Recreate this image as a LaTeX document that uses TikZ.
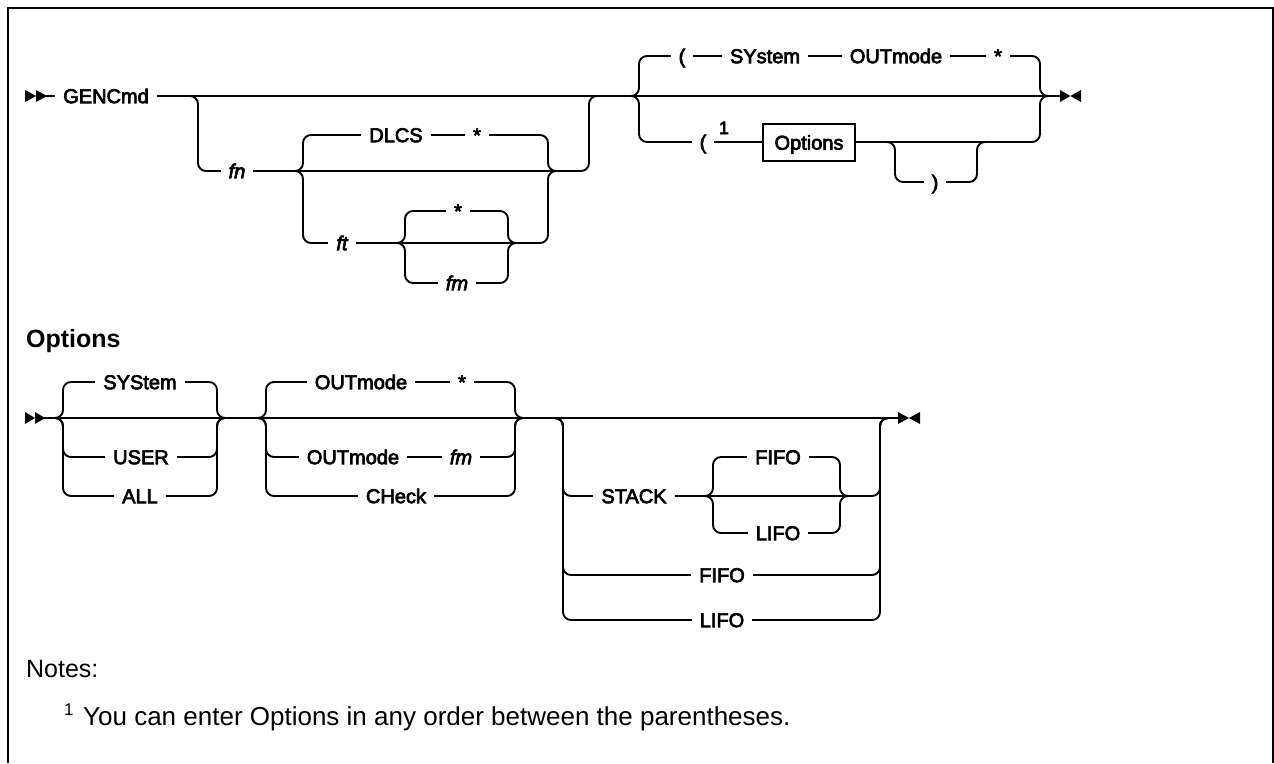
\documentclass[tikz,border=0pt]{standalone}
\usepackage{fontspec}
\setmainfont{Liberation Sans}
\newfontfamily\labfont{Liberation Sans}[FakeBold=3.5]
\begin{document}
\begin{tikzpicture}[x=1pt,y=-1pt,
  rail/.style={line width=1.9pt, rounded corners=8pt, line join=round},
  lab/.style={font=\labfont\fontsize{20}{24}\selectfont, fill=white, inner xsep=8pt, inner ysep=1pt, text height=14.3pt, text depth=0pt},
  ilab/.style={lab, font=\labfont\itshape\fontsize{20}{24}\selectfont},
  tipmark/.style={fill=black, draw=none},
  frame/.style={line width=2.4pt},
]
\useasboundingbox (0,0) rectangle (1274,763);
% frame
\draw[frame] (8,763) -- (8,8) -- (1272.8,8) -- (1272.8,763);

% ---------------- main diagram ----------------
\fill[tipmark] (25,90) -- (36,96) -- (25,102) -- cycle;
\fill[tipmark] (36,90) -- (47,96) -- (36,102) -- cycle;
\draw[rail] (46,96) -- (1062,96);
\fill[tipmark] (1060,90) -- (1070.5,96) -- (1060,102) -- cycle;
\fill[tipmark] (1081,90) -- (1070.5,96) -- (1081,102) -- cycle;
% optional fn group
\draw[rail] (190,96) -- (198,96) -- (198,171) -- (589,171) -- (589,96) -- (597,96);
\draw[rail] (295,171) -- (303,171) -- (303,135) -- (548,135) -- (548,171) -- (556,171);
\draw[rail] (295,171) -- (303,171) -- (303,243) -- (548,243) -- (548,171) -- (556,171);
\draw[rail] (397,243) -- (405,243) -- (405,211) -- (508,211) -- (508,243) -- (516,243);
\draw[rail] (397,243) -- (405,243) -- (405,283) -- (508,283) -- (508,243) -- (516,243);
% parenthesised group
\draw[rail] (631,96) -- (639,96) -- (639,56) -- (1040,56) -- (1040,96) -- (1048,96);
\draw[rail] (631,96) -- (639,96) -- (639,142) -- (1040,142) -- (1040,96) -- (1048,96);
\draw[rail] (887,142) -- (895,142) -- (895,182) -- (977,182) -- (977,142) -- (985,142);

\node[lab] (gen) at (106,96) {GENCmd};
\node[ilab] (fn) at (237,171) {fn};
\node[lab] (dlcs) at (396,135) {DLCS};
\node[lab] (star1) at (477,135) {*};
\node[ilab] (ft) at (342,243) {ft};
\node[lab] (star2) at (458,211) {*};
\node[ilab] (fm1) at (457,283) {fm};
\node[lab] (lp1) at (682,56) {(};
\node[lab] (sys1) at (765,56) {SYstem};
\node[lab] (out1) at (896,56) {OUTmode};
\node[lab] (star3) at (998,56) {*};
\node[lab] (lp2) at (703,142) {(};
\node[anchor=base, inner sep=0, font=\labfont\fontsize{18}{20}\selectfont] (sup1) at (724,134) {1};
\node[draw, line width=1.9pt, fill=white, minimum width=92pt, minimum height=37pt, inner sep=0,
      font=\labfont\fontsize{20}{24}\selectfont, text height=14.3pt, text depth=0pt] (optbox) at (809,142.5) {Options};
\node[lab] (rp) at (935,182) {)};

% ---------------- Options fragment ----------------
\node[anchor=base west, inner sep=0, font=\bfseries\fontsize{25}{30}\selectfont] (opthead) at (26,347) {Options};

\fill[tipmark] (25,412) -- (35,418) -- (25,424) -- cycle;
\fill[tipmark] (35,412) -- (45,418) -- (35,424) -- cycle;
\draw[rail] (44,418) -- (900,418);
\fill[tipmark] (898,412) -- (909,418) -- (898,424) -- cycle;
\fill[tipmark] (920,412) -- (909,418) -- (920,424) -- cycle;

\foreach \yy in {382,457,496}
  \draw[rail] (55,418) -- (63,418) -- (63,\yy) -- (217,\yy) -- (217,418) -- (225,418);
\foreach \yy in {382,457,496}
  \draw[rail] (258,418) -- (266,418) -- (266,\yy) -- (515,\yy) -- (515,418) -- (523,418);
\foreach \yy in {496,575,620}
  \draw[rail] (555,418) -- (563,418) -- (563,\yy) -- (880,\yy) -- (880,418) -- (888,418);
\foreach \yy in {457,533}
  \draw[rail] (705,496) -- (713,496) -- (713,\yy) -- (840,\yy) -- (840,496) -- (848,496);

\node[lab] (sys2) at (140,382) {SYStem};
\node[lab] (user) at (141,457) {USER};
\node[lab] (all) at (140,496) {ALL};
\node[lab] (out2) at (361,382) {OUTmode};
\node[lab] (star4) at (462,382) {*};
\node[lab] (out3) at (353,457) {OUTmode};
\node[ilab] (fm2) at (461,457) {fm};
\node[lab] (check) at (396,496) {CHeck};
\node[lab] (stack) at (634,496) {STACK};
\node[lab] (fifo1) at (778,457) {FIFO};
\node[lab] (lifo1) at (778,533) {LIFO};
\node[lab] (fifo2) at (722,575) {FIFO};
\node[lab] (lifo2) at (722,620) {LIFO};

% ---------------- notes ----------------
\node[anchor=base west, inner sep=0, font=\fontsize{25}{30}\selectfont] (notes) at (26,677) {Notes:};
\node[anchor=base west, inner sep=0, font=\fontsize{17}{20}\selectfont] (note1mark) at (64,715) {1};
\node[anchor=base west, inner sep=0, font=\fontsize{26}{31}\selectfont] (note1) at (83,725) {You can enter Options in any order between the parentheses.};
\end{tikzpicture}
\end{document}
